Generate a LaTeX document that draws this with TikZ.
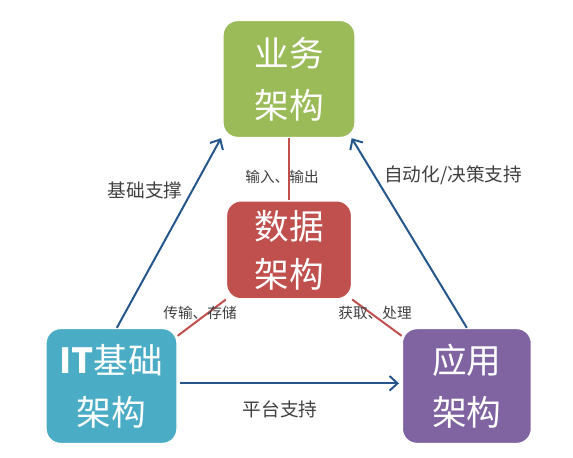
\documentclass[tikz,border=0pt]{standalone}
\usepackage{fontspec}
\setmainfont{Noto Sans CJK SC}
\usepackage{xcolor}
\usepackage{tikz}
\usetikzlibrary{positioning,arrows.meta}
\definecolor{bizgreen}{RGB}{155,187,89}
\definecolor{datared}{RGB}{192,80,77}
\definecolor{itteal}{RGB}{75,172,198}
\definecolor{apppurple}{RGB}{128,100,162}
\definecolor{arrowblue}{RGB}{37,86,140}
\definecolor{labelgray}{RGB}{64,64,64}

\begin{document}
\begin{tikzpicture}[x=0.75pt, y=-0.75pt,
        archbox/.style={rectangle, draw=white, line width=1pt, rounded corners=11pt,
                   text=white, align=center, inner sep=0pt,
                   font=\fontsize{26}{39}\selectfont},
        support/.style={-{Straight Barb[length=6pt,width=11pt]}, line width=1.5pt, arrowblue},
        flow/.style={line width=1.5pt, datared},
        biglabel/.style={text=labelgray, font=\fontsize{14}{16}\selectfont},
        smalllabel/.style={text=labelgray, font=\fontsize{11}{13}\selectfont}
    ]
        \useasboundingbox (0,0) rectangle (573,457);

        % four architecture boxes
        \node[archbox, fill=bizgreen, minimum width=99pt, minimum height=87.75pt] (biz) at (289,79) {业务\\架构};
        \node[archbox, fill=datared, minimum width=93.75pt, minimum height=73.5pt,
              font=\fontsize{26}{36}\selectfont, below=46.5pt of biz] (data) {数据\\架构};
        \node[archbox, fill=itteal, minimum width=98.25pt, minimum height=86.25pt] (it) at (111.5,386) {{\bfseries IT}基础\\架构};
        \node[archbox, fill=apppurple, minimum width=96.75pt, minimum height=86.25pt, right=168pt of it] (app) {应用\\架构};

        % data flows
        \draw[flow] (biz.south) -- (data.north);
        \draw[flow] (data.south west) -- ([yshift=-6pt]it.north east);
        \draw[flow] (data.south east) -- ([yshift=-6pt]app.north west);

        % support arrows
        \draw[support] ([xshift=4pt]it.north) -- ([xshift=-1pt]biz.south west);
        \draw[support] (app.north) -- ([xshift=-3pt]biz.south east);
        \draw[support] ([xshift=1.5pt,yshift=2pt]it.east) -- ([xshift=-2pt,yshift=2pt]app.west);

        % labels
        \node[biglabel] (basesup) at (145,190) {基础支撑};
        \node[biglabel] (autosup) at (453,175) {自动化/决策支持};
        \node[biglabel] (platsup) at (280,409) {平台支持};
        \node[smalllabel] (inout) at (282,177) {输入、输出};
        \node[smalllabel] (transstore) at (200,313) {传输、存储};
        \node[smalllabel] (getproc) at (375,313) {获取、处理};
    \end{tikzpicture}
\end{document}
